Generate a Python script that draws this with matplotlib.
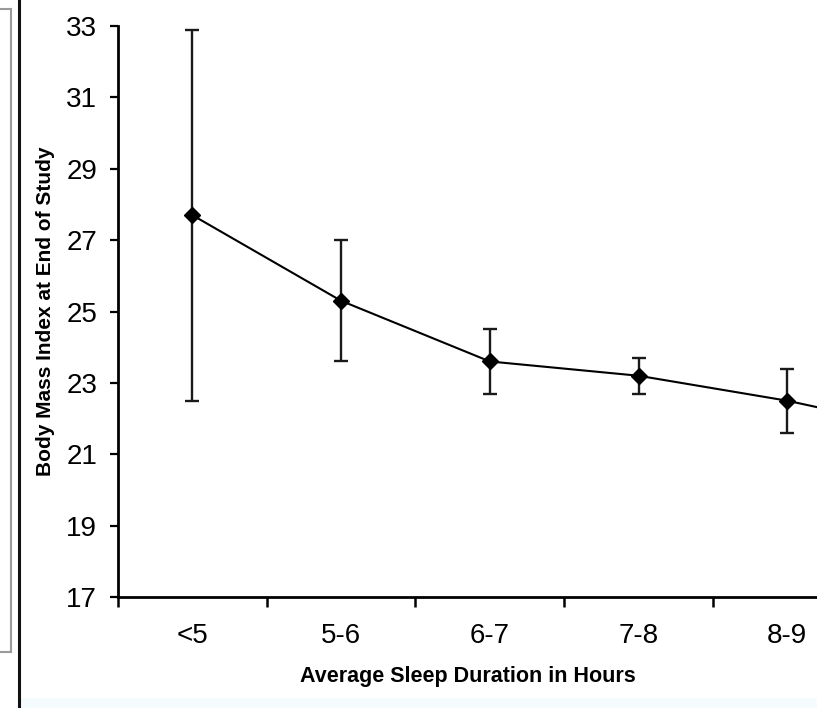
import numpy as np
import matplotlib
matplotlib.use('Agg')
import matplotlib.pyplot as plt
from matplotlib.patches import Rectangle
from matplotlib.lines import Line2D

plt.rcParams['font.family'] = ['Liberation Sans', 'DejaVu Sans']

# Data
sleep_groups = ['<5', '5-6', '6-7', '7-8', '8-9', '>9']
bmi_mean = [27.7, 25.3, 23.6, 23.2, 22.5, 21.6]
bmi_err = [5.2, 1.7, 0.9, 0.5, 0.9, 0.9]
y_ticks = [17, 19, 21, 23, 25, 27, 29, 31, 33]

W, H = 817, 708
fig = plt.figure(figsize=(W / 100, H / 100), dpi=100)

# axes: y axis at x=118px, x axis at y=597px, top at y=26px, runs off the right edge
ax = fig.add_axes([118 / W, (H - 597) / H, (W - 118) / W, (597 - 26) / H])
ax.patch.set_alpha(0)

x = np.arange(len(sleep_groups))
ax.errorbar(x, bmi_mean, yerr=bmi_err, color='black', lw=1.5, marker='D',
            markersize=8, ecolor='#1a1a1a', elinewidth=1.7, capsize=5,
            capthick=1.7)

ax.set_yticks(y_ticks)
ax.tick_params(axis='y', direction='out', length=6, width=1.6, labelsize=20, pad=9)

# ticks at category boundaries, labels at centres
ax.set_xticks(np.arange(-0.5, len(sleep_groups), 1.0))
ax.set_xticklabels([])
ax.set_xticks(x, minor=True)
ax.set_xticklabels(sleep_groups, minor=True)
ax.tick_params(axis='x', which='major', direction='out', length=7, width=1.8)
ax.tick_params(axis='x', which='minor', length=0, labelsize=20, pad=19)

ax.set_xlim(-0.5, 4.2)
ax.set_ylim(17, 33)

for s in ['top', 'right']:
    ax.spines[s].set_visible(False)
for s in ['left', 'bottom']:
    ax.spines[s].set_linewidth(2)

ax.set_xlabel('Average Sleep Duration in Hours', fontsize=15.5, fontweight='bold', labelpad=12)
ax.set_ylabel('Body Mass Index at End of Study', fontsize=15, fontweight='bold', labelpad=8)

# bits of the neighbouring figure on the left of the screenshot
fig.add_artist(Rectangle((-20 / W, (H - 652) / H), 31 / W, (652 - 9) / H,
                         transform=fig.transFigure, fill=False,
                         edgecolor='#9a9a9a', lw=1.5))
fig.add_artist(Line2D([19 / W, 19 / W], [0, 1], transform=fig.transFigure,
                      color='#111111', lw=2.2))
# faint tint along the bottom
fig.add_artist(Rectangle((20 / W, 0), 1, 10 / H, transform=fig.transFigure,
                         facecolor='#f4fcfd', edgecolor='none', zorder=-1))

fig.savefig('out.png', dpi=100)
